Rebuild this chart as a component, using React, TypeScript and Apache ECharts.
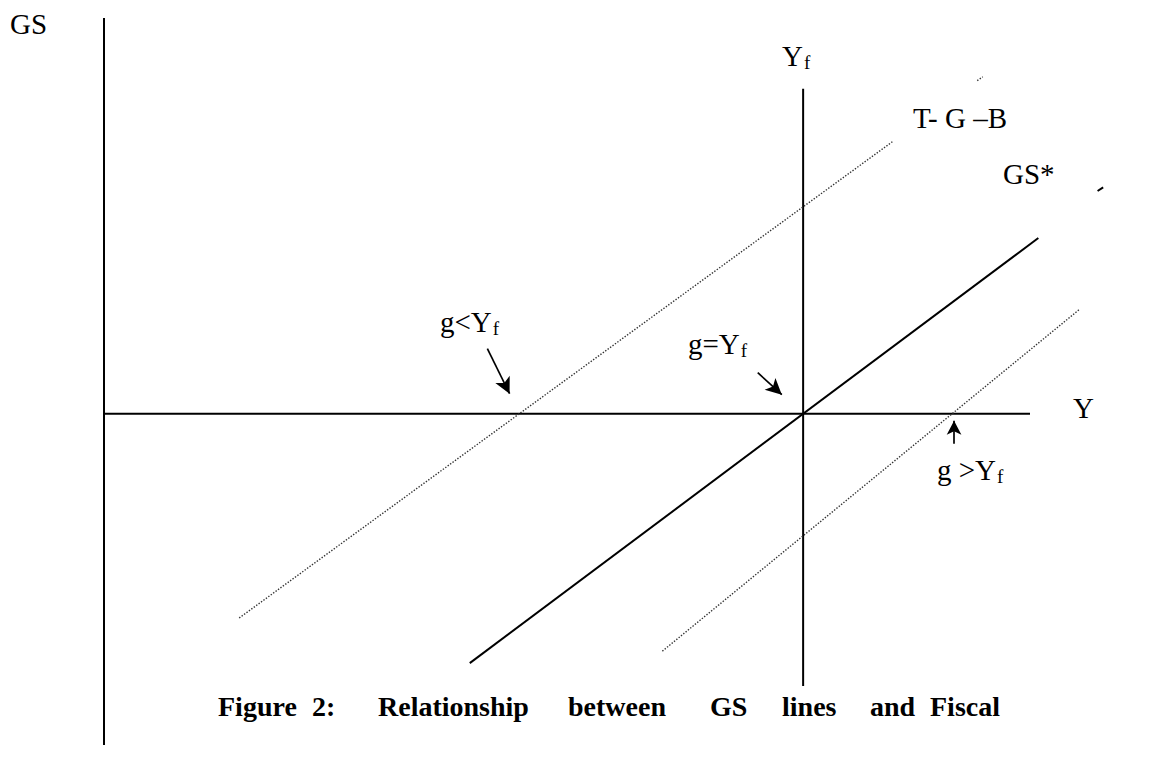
import React, { useEffect, useRef } from "react";
import * as echarts from "echarts";

// Economic coordinates: x = income Y (0..110), y = GS (-36..43)
const leftAxisLine = [[0, 43], [0, -36]];
const incomeAxisLine = [[0, 0], [100, 0]];
const fullEmploymentLine = [[75.5, 35.3], [75.5, -29.6]];
const gsStarLine = [[39.5, -27.1], [100.9, 19.1]];
const gsStarStub = [[107.3, 24.2], [107.9, 24.6]];
const tgbLine = [[14.6, -22.2], [85.2, 29.6]];
const tgbStub = [[94.3, 36.2], [94.9, 36.6]];
const surplusLine = [[60.3, -25.8], [105.3, 11.3]];

const arrowLess = [[41.4, 7.07], [43.8, 2.17]];
const arrowEqual = [[70.6, 4.46], [73.2, 2.07]];
const arrowGreater = [[91.8, -3.26], [91.8, -0.76]];

const captionWords = ["Figure", "2:", "Relationship", "between", "GS", "lines", "and", "Fiscal"];
const captionX = [218, 312, 378, 568, 710, 782, 870, 930];

const FONT = "'Liberation Serif', 'Times New Roman', serif";

function solid(name: string, data: number[][], width = 2) {
  return {
    name,
    type: "line",
    data,
    symbol: "none",
    clip: false,
    silent: true,
    lineStyle: { color: "#000", width, type: "solid" },
  };
}

function dotted(name: string, data: number[][]) {
  return {
    name,
    type: "line",
    data,
    symbol: "none",
    clip: false,
    silent: true,
    lineStyle: { color: "#333", width: 1.4, type: [1.4, 1.6] },
  };
}

function arrow(name: string, pts: number[][], size: number[]) {
  return {
    name,
    type: "line",
    data: [],
    symbol: "none",
    silent: true,
    markLine: {
      silent: true,
      symbol: ["none", "arrow"],
      symbolSize: size,
      label: { show: false },
      lineStyle: { color: "#000", width: 1.7, type: "solid" },
      data: [[{ coord: pts[0] }, { coord: pts[1] }]],
    },
  };
}

function txt(x: number, y: number, text: string, size = 29, rich?: any, bold = false) {
  return {
    type: "text",
    x,
    y,
    silent: true,
    style: {
      text,
      fill: "#000",
      font: `${bold ? "bold " : ""}${size}px ${FONT}`,
      textVerticalAlign: "middle",
      rich,
    },
  };
}

const subRich = {
  m: { fontSize: 29, fontFamily: FONT, color: "#000" },
  s: { fontSize: 19, fontFamily: FONT, color: "#000", padding: [12, 0, 0, 1] },
};

export default function App() {
  const ref = useRef<HTMLDivElement>(null);
  useEffect(() => {
    if (!ref.current) return;
    const chart = echarts.init(ref.current, undefined, { renderer: "svg" });
    chart.setOption({
      animation: false,
      backgroundColor: "#fff",
      grid: { left: 104, top: 18, width: 1018.6, bottom: 14 },
      xAxis: {
        type: "value",
        min: 0,
        max: 110,
        show: false,
      },
      yAxis: {
        type: "value",
        min: -36,
        max: 43,
        show: false,
      },
      series: [
        solid("GS axis", leftAxisLine, 2),
        solid("Y axis", incomeAxisLine, 2),
        solid("Yf", fullEmploymentLine, 2),
        solid("GS*", gsStarLine, 2),
        solid("GS* stub", gsStarStub, 2),
        dotted("T-G-B", tgbLine),
        dotted("T-G-B stub", tgbStub),
        dotted("GS surplus", surplusLine),
        arrow("g<Yf", arrowLess, [12, 16]),
        arrow("g=Yf", arrowEqual, [12, 16]),
        arrow("g>Yf", arrowGreater, [11, 14]),
      ],
      graphic: [
        txt(10, 24, "GS"),
        txt(782, 56, "{m|Y}{s|f}", 29, subRich),
        txt(913, 118, "T- G –B"),
        txt(1003, 174, "GS*"),
        txt(440, 322, "{m|g<Y}{s|f}", 29, subRich),
        txt(688, 344, "{m|g=Y}{s|f}", 29, subRich),
        txt(1073, 408, "Y"),
        txt(937, 470, "{m|g >Y}{s|f}", 29, subRich),
        ...captionWords.map((w, i) => txt(captionX[i], 706, w, 28, undefined, true)),
      ],
    });
    return () => chart.dispose();
  }, []);
  return <div ref={ref} style={{ width: 1156, height: 759, position: "absolute", left: 0, top: 0 }} />;
}
